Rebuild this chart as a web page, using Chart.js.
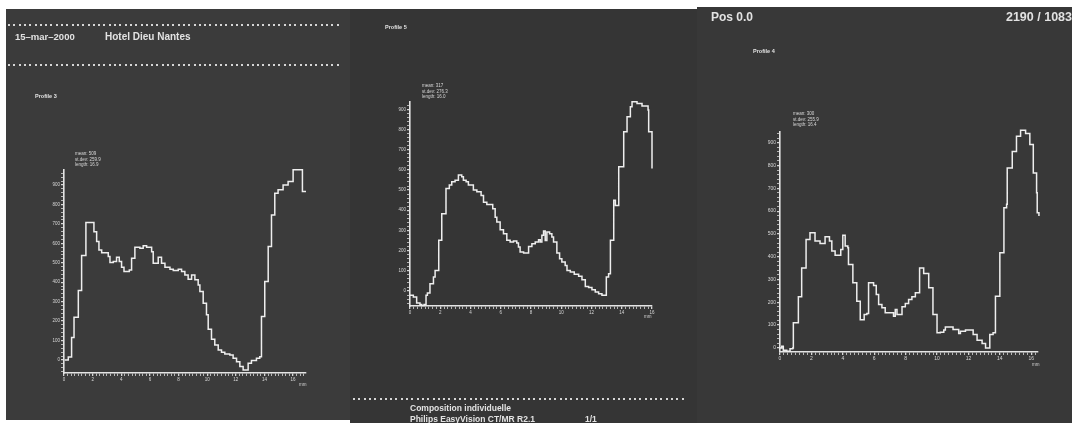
<!DOCTYPE html>
<html>
<head>
<meta charset="utf-8">
<script src="https://cdn.jsdelivr.net/npm/chart.js@4.4.1/dist/chart.umd.min.js"></script>
<style>
  html, body { margin: 0; padding: 0; background: #fff; width: 1072px; height: 423px; overflow: hidden;
    font-family: "Liberation Sans", Arial, sans-serif; }
  .panel { position: absolute; }
  canvas { position: absolute; }
  .t { position: absolute; color: #e2e2e2; white-space: nowrap; line-height: 1; }
  .b { font-weight: bold; }
  .dots { position: absolute; height: 2px;
    background: repeating-linear-gradient(90deg, #d6d6d6 0 2px, transparent 2px 5.3px); }
  .stats { font-size: 4.5px; line-height: 5.5px; color: #d8d8d8; }
  .mm { font-size: 4.5px; color: #d0d0d0; }
</style>
</head>
<body>
<div class="panel" style="left:6px;top:9px;width:344px;height:411px;background:#3b3b3b"></div>
<div class="panel" style="left:350px;top:9px;width:347px;height:414px;background:#353535"></div>
<div class="panel" style="left:697px;top:7px;width:375px;height:416px;background:#383838"></div>

<canvas id="c3" width="344" height="411" style="left:6px;top:9px"></canvas>
<canvas id="c5" width="347" height="414" style="left:350px;top:9px"></canvas>
<canvas id="c4" width="375" height="416" style="left:697px;top:7px"></canvas>

<!-- panel 1 -->
<div class="dots" style="left:8px;top:24px;width:334px"></div>
<div class="t b" style="left:15px;top:32px;font-size:9.5px">15–mar–2000</div>
<div class="t b" style="left:105px;top:32px;font-size:10px">Hotel Dieu Nantes</div>
<div class="dots" style="left:8px;top:64px;width:334px"></div>
<div class="t b" style="left:35px;top:94px;font-size:5.5px">Profile 3</div>
<div class="t stats" style="left:75px;top:151px">mean: 509<br>st.dev: 259.9<br>length: 16.9</div>
<div class="t mm" style="left:299px;top:383px">mm</div>

<!-- panel 2 -->
<div class="t b" style="left:385px;top:25px;font-size:5.5px">Profile 5</div>
<div class="t stats" style="left:422px;top:83px">mean: 317<br>st.dev: 276.3<br>length: 16.0</div>
<div class="t mm" style="left:644px;top:315px">mm</div>
<div class="dots" style="left:353px;top:398px;width:332px"></div>
<div class="t b" style="left:410px;top:404px;font-size:8.5px">Composition individuelle</div>
<div class="t b" style="left:410px;top:415px;font-size:8.5px">Philips EasyVision CT/MR R2.1</div>
<div class="t b" style="left:585px;top:415px;font-size:8.5px">1/1</div>

<!-- panel 3 -->
<div class="t b" style="left:711px;top:11px;font-size:12px">Pos 0.0</div>
<div class="t b" style="right:0;top:11px;font-size:12.5px">2190 / 1083</div>
<div class="t b" style="left:753px;top:49px;font-size:5.5px">Profile 4</div>
<div class="t stats" style="left:793px;top:111px">mean: 300<br>st.dev: 255.9<br>length: 16.4</div>
<div class="t mm" style="left:1032px;top:363px">mm</div>

<script>
// profile 3 (left panel): position along line in mm, value
const profile3X = [0.05, 0.30, 0.53, 0.70, 1.00, 1.23, 1.53, 2.09, 2.28, 2.44, 2.63, 3.09, 3.21, 3.44, 3.67, 3.86,
  4.02, 4.19, 4.56, 4.72, 4.95, 5.30, 5.53, 5.77, 6.12, 6.23, 6.58, 6.81, 7.05, 7.40, 7.63, 7.98, 8.21, 8.44,
  8.67, 8.91, 9.14, 9.37, 9.49, 9.72, 9.95, 10.07, 10.30, 10.53, 10.77, 11.00, 11.23, 11.58, 11.81, 12.05,
  12.28, 12.51, 12.86, 13.09, 13.44, 13.67, 13.79, 14.02, 14.26, 14.49, 14.72, 14.95, 15.30, 15.65, 16.00,
  16.65, 16.90];
const profile3Y = [0, 15, 115, 220, 357, 537, 707, 660, 609, 566, 552, 532, 501, 506, 528, 506,
  477, 455, 463, 523, 580, 575, 587, 580, 557, 497, 528, 497, 477, 467, 460, 467, 455, 437,
  415, 437, 412, 386, 352, 292, 232, 158, 106, 77, 51, 40, 31, 26, 9, -9,
  -34, -51, -17, -3, 9, 17, 223, 403, 583, 746, 858, 875, 900, 918, 978,
  866, 866];

// profile 5 (middle panel)
const profile5X = [0.00, 0.22, 0.44, 0.66, 0.77, 0.93, 1.06, 1.15, 1.32, 1.55, 1.66, 1.90, 2.10, 2.38, 2.60, 2.76,
  2.98, 3.20, 3.42, 3.53, 3.71, 3.86, 4.19, 4.42, 4.70, 4.86, 5.08, 5.47, 5.63, 5.74, 5.96, 6.18, 6.40, 6.62,
  6.84, 7.06, 7.17, 7.28, 7.51, 7.84, 8.06, 8.28, 8.50, 8.61, 8.72, 8.83, 8.94, 9.05, 9.23, 9.38, 9.49, 9.71,
  9.89, 10.04, 10.26, 10.38, 10.60, 10.86, 11.15, 11.37, 11.59, 11.81, 12.03, 12.25, 12.47, 12.69, 12.98,
  13.13, 13.25, 13.47, 13.58, 13.80, 14.13, 14.35, 14.57, 14.68, 15.01, 15.34, 15.74, 15.78, 16.00, 16.02];
const profile5Y = [-21, -30, -59, -66, -71, -66, -21, -10, 36, 69, 102, 251, 383, 508, 525, 541,
  549, 574, 566, 549, 541, 525, 500, 492, 473, 440, 429, 408, 366, 342, 304, 284, 251, 243,
  248, 238, 218, 193, 188, 221, 234, 243, 254, 243, 276, 297, 250, 292, 284, 267, 243, 188,
  160, 144, 127, 102, 94, 83, 73, 56, 23, 17, 7, -5, -13, -21, 69,
  86, 251, 449, 424, 616, 789, 863, 913, 937, 929, 916, 896, 789, 607, 607];

// profile 4 (right panel)
const profile4X = [0.00, 0.11, 0.21, 0.43, 0.64, 0.81, 0.85, 1.17, 1.38, 1.66, 1.91, 2.23, 2.55, 2.87, 3.15, 3.30,
  3.51, 3.87, 4.00, 4.15, 4.32, 4.36, 4.64, 4.89, 5.11, 5.36, 5.53, 5.64, 5.96, 6.13, 6.28, 6.49, 6.70, 7.23,
  7.34, 7.45, 7.77, 7.98, 8.19, 8.40, 8.62, 8.89, 9.15, 9.47, 9.74, 10.00, 10.21, 10.43, 10.53, 11.02, 11.38,
  11.49, 11.81, 12.30, 12.55, 12.87, 13.09, 13.36, 13.57, 13.72, 14.00, 14.26, 14.43, 14.47, 14.79, 15.06,
  15.32, 15.64, 15.91, 16.13, 16.34, 16.38, 16.49];
const profile4Y = [0, 7, -10, -15, -4, 0, 110, 224, 351, 476, 505, 469, 458, 488, 469, 425,
  406, 432, 494, 447, 439, 366, 286, 205, 124, 146, 151, 286, 274, 234, 190, 176, 154, 139,
  168, 146, 180, 195, 212, 224, 242, 351, 326, 264, 146, 66, 69, 78, 92, 81, 63,
  73, 78, 59, 34, 19, 0, 59, 66, 227, 417, 615, 630, 789, 862, 928,
  955, 940, 892, 767, 681, 593, 578];

const xMajor = [0, 2, 4, 6, 8, 10, 12, 14, 16];
const yMajor = [0, 100, 200, 300, 400, 500, 600, 700, 800, 900];

const FONT = '"Liberation Sans", Arial, sans-serif';
const LINE = "#eeeeee", AXIS = "#e4e4e4", TICK = "#d6d6d6", LABEL = "#d6d6d6";
const Y_W = 22, X_H = 14;

function stepTicks(lo, hi, step) {
  const out = [];
  for (let v = Math.ceil(lo / step) * step; v <= hi + 1e-9; v += step) out.push({ value: +v.toFixed(4) });
  return out;
}

function profileChart(id, box, area, xs, ys, xMax, yMin, yMax, fs) {
  return new Chart(document.getElementById(id), {
    type: "line",
    data: { datasets: [{ data: xs.map((x, i) => ({ x, y: ys[i] })), borderColor: LINE, borderWidth: 1.5,
      pointRadius: 0, stepped: true, fill: false, clip: false }] },
    options: {
      responsive: false, animation: false, devicePixelRatio: 1,
      layout: { padding: { left: area.l - box.x - Y_W, top: area.t - box.y,
        right: box.x + box.w - area.r, bottom: box.y + box.h - area.b - X_H } },
      plugins: { legend: { display: false }, tooltip: { enabled: false } },
      scales: {
        x: { type: "linear", min: 0, max: xMax,
          afterFit: (s) => { s.height = X_H; },
          afterBuildTicks: (s) => { s.ticks = stepTicks(0, xMax, 0.25); },
          grid: { drawOnChartArea: false, tickLength: 3, color: TICK,
            lineWidth: (c) => (c.tick && xMajor.includes(c.tick.value) ? 1.3 : 0.8) },
          border: { color: AXIS, width: 1.6 },
          ticks: { autoSkip: false, maxRotation: 0, padding: 1, color: LABEL, font: { size: fs, family: FONT },
            callback: (v) => (xMajor.includes(v) ? String(v) : "") } },
        y: { type: "linear", min: yMin, max: yMax,
          afterFit: (s) => { s.width = Y_W; },
          afterBuildTicks: (s) => { s.ticks = stepTicks(yMin, yMax, 20); },
          grid: { drawOnChartArea: false, tickLength: 3, color: TICK,
            lineWidth: (c) => (c.tick && yMajor.includes(c.tick.value) ? 1.2 : 0.8) },
          border: { color: AXIS, width: 1.6 },
          ticks: { autoSkip: false, padding: 1, color: LABEL, font: { size: fs, family: FONT },
            callback: (v) => (yMajor.includes(v) ? String(v) : "") } },
      },
    },
  });
}

profileChart("c3", { x: 6, y: 9, w: 344, h: 411 }, { l: 64, t: 170, r: 306, b: 373 },
  profile3X, profile3Y, 16.9, -67, 977, 4.5);
profileChart("c5", { x: 350, y: 9, w: 347, h: 414 }, { l: 410, t: 102, r: 652, b: 306 },
  profile5X, profile5Y, 16, -74, 936, 4.5);
profileChart("c4", { x: 697, y: 7, w: 375, h: 416 }, { l: 780, t: 132, r: 1038, b: 352 },
  profile4X, profile4Y, 16.43, -18, 947, 5);
</script>
</body>
</html>
